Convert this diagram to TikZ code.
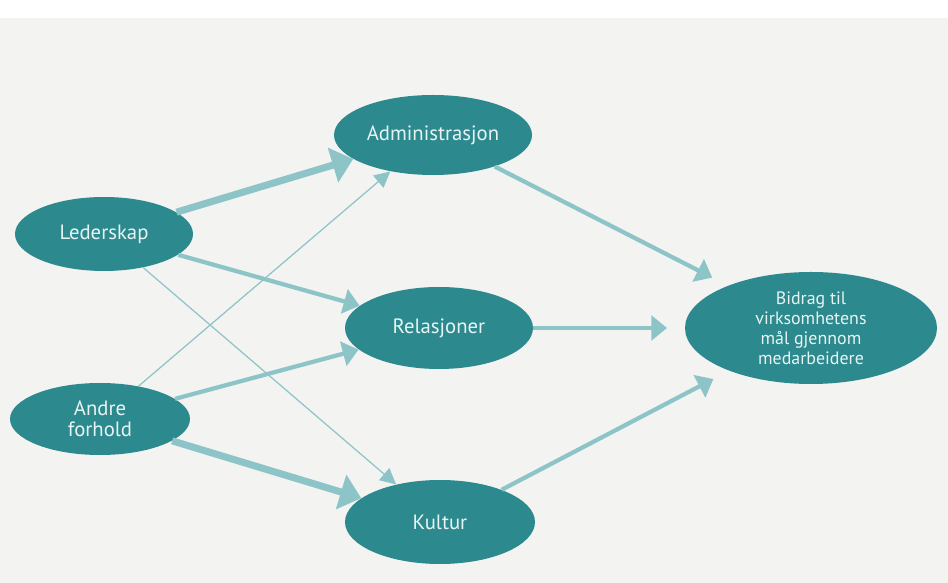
\documentclass[tikz,border=0pt]{standalone}
\usepackage{fontspec}
\setmainfont{PT Sans}
\usepackage{tikz}
\usetikzlibrary{shapes.geometric,arrows.meta}
\definecolor{tealdark}{RGB}{44,138,142}
\definecolor{teallight}{RGB}{140,196,200}
\definecolor{tealtext}{RGB}{232,244,244}
\definecolor{paper}{RGB}{243,243,241}

\begin{document}
\begin{tikzpicture}
\tikzstyle{blob}=[ellipse, inner sep=0pt, fill=tealdark, text=tealtext, font=\fontsize{11.8}{12}\selectfont, align=center]
\tikzstyle{wide}=[draw=teallight, line width=4pt, -{Triangle[width=20pt,length=12pt]}]
\tikzstyle{mid}=[draw=teallight, line width=2.4pt, -{Triangle[width=14pt,length=9pt]}]
\tikzstyle{thin}=[draw=teallight, line width=0.7pt, -{Triangle[width=9pt,length=9pt]}]
\tikzstyle{gap}=[shorten >=10pt]

\fill[paper] (0,0) rectangle (18.96,11.66);
\fill[white] (0,11.3) rectangle (18.96,11.66);
\useasboundingbox (0,0) rectangle (18.96,11.66);

\node[blob, minimum width=3.56cm, minimum height=1.48cm] (lead) at (2.08,6.98) {Lederskap};
\node[blob, minimum width=3.6cm, minimum height=1.44cm] (andre) at (2.00,3.28) {Andre\\forhold};
\node[blob, minimum width=3.96cm, minimum height=1.6cm] (adm) at (8.66,8.96) {Administrasjon};
\node[blob, minimum width=3.76cm, minimum height=1.64cm] (rel) at (8.78,5.10) {Relasjoner};
\node[blob, minimum width=3.8cm, minimum height=1.68cm] (kult) at (8.80,1.22) {Kultur};
\node[blob, minimum width=5.04cm, minimum height=2.24cm, font=\fontsize{10.2}{11.4}\selectfont] (bid) at (16.22,5.10) {Bidrag til\\virksomhetens\\mål gjennom\\medarbeidere};

\path
	(lead) edge[wide] (adm)
	(lead) edge[mid] (rel)
	(lead) edge[thin] (kult)
	(andre) edge[thin] (adm)
	(andre) edge[mid] (rel)
	(andre) edge[wide] (kult)
	(adm) edge[mid,gap] (bid)
	(rel) edge[mid,gap] (bid)
	(kult) edge[mid,gap] (bid);

\end{tikzpicture}
\end{document}
